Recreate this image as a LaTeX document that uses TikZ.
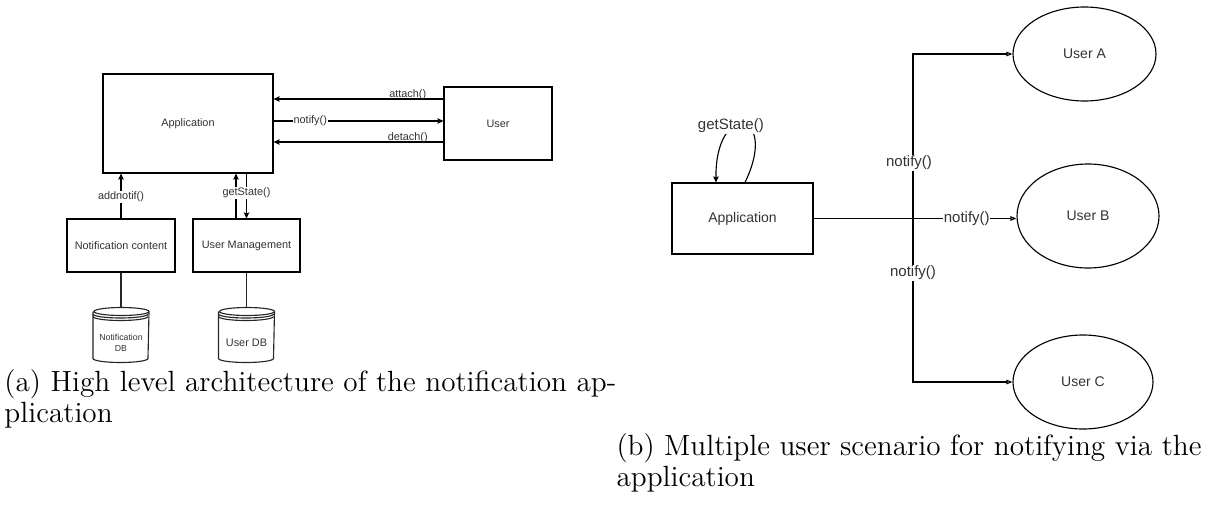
\documentclass[tikz,border=0pt]{standalone}
\usepackage{fontspec}
\newfontfamily\diagfont{Liberation Sans}
\usetikzlibrary{arrows.meta,shapes.geometric,calc}
\newlength\pxl
\setlength\pxl{0.4pt}

% outline of a datastore drum drawn inside the box of node #1
\newcommand\drumoutline[1]{%
  \draw[thinline] ([yshift=-4\pxl]#1.north west) -- ([yshift=4\pxl]#1.south west)
    arc[start angle=180, end angle=360, x radius=27.5\pxl, y radius=4\pxl]
    -- ([yshift=-4\pxl]#1.north east)
    arc[start angle=0, end angle=360, x radius=27.5\pxl, y radius=4\pxl];
  \draw[thinline] ([yshift=-6.5\pxl]#1.north west)
    arc[start angle=180, end angle=360, x radius=27.5\pxl, y radius=4\pxl];
  \draw[thinline] ([yshift=-9\pxl]#1.north west)
    arc[start angle=180, end angle=360, x radius=27.5\pxl, y radius=4\pxl];
}

\begin{document}
\begin{tikzpicture}[x=0.4pt, y=-0.4pt,
  every node/.style={text=black!80},
  thinline/.style={line width=0.45pt, draw=black!85},
  lfont/.style={font=\diagfont\fontsize{4.35pt}{5.2pt}\selectfont},
  rfont/.style={font=\diagfont\fontsize{5.6pt}{6.7pt}\selectfont},
  lbox/.style={draw, line width=0.45pt, inner sep=0, lfont},
  rbox/.style={draw, line width=0.45pt, inner sep=0, rfont},
  ruser/.style={ellipse, draw, line width=0.45pt, inner sep=0, rfont},
  drum/.style={minimum width=55\pxl, minimum height=54\pxl, inner sep=0},
  drumtext/.style={font=\diagfont\fontsize{3.5pt}{4.6pt}\selectfont, align=center},
  larr/.style={line width=0.45pt, -{Stealth[length=2.4pt, width=2.2pt, inset=0.4pt]}},
  rarr/.style={line width=0.45pt, -{Triangle[open, length=2.4pt, width=1.8pt]}},
  llabel/.style={lfont, fill=white, inner sep=0.25pt},
  lover/.style={lfont, inner sep=0, anchor=base, yshift=0.6pt},
  rlabel/.style={font=\diagfont\fontsize{6pt}{7.2pt}\selectfont, fill=white, inner sep=0.25pt},
  caption/.style={font=\fontsize{11.7pt}{12.6pt}\selectfont, align=left, inner sep=0, text=black},
]
\useasboundingbox (0,0) rectangle (1226,513);

% ---------- (a) architecture ----------
\node[lbox, minimum width=170\pxl, minimum height=99\pxl] (app) at (188,123.5) {Application};
\node[lbox, minimum width=108\pxl, minimum height=73\pxl] (user) at (498,123.5) {User};
\node[lbox, minimum width=108\pxl, minimum height=53\pxl] (content) at (121,245.5) {Notification content};
\node[lbox, minimum width=107\pxl, minimum height=53\pxl] (mgmt) at (246.5,245.5) {User Management};
\node[drum, label={[drumtext, yshift=-3.2pt]center:Notification\\DB}] (ndb) at (121,335) {};
\node[drum, label={[lfont, yshift=-3.2pt]center:User DB}] (udb) at (246.5,335) {};
\drumoutline{ndb}
\drumoutline{udb}

\draw[larr] ([yshift=9.8pt]user.west) -- ([yshift=9.8pt]user.west -| app.east)
  node[lover, pos=0.21] {attach()};
\draw[larr] ([yshift=1pt]app.east) -- ([yshift=1pt]app.east -| user.west)
  node[llabel, pos=0.216] {notify()};
\draw[larr] ([yshift=-7.4pt]user.west) -- ([yshift=-7.4pt]user.west -| app.east)
  node[lover, pos=0.21] {detach()};

\draw[larr] (content.north) -- (content.north |- app.south)
  node[llabel, pos=0.48] {addnotif()};
\draw[larr] ([xshift=-4.2pt]mgmt.north) -- ([xshift=-4.2pt]mgmt.north |- app.south);
\draw[larr] (mgmt.north |- app.south) -- (mgmt.north)
  node[llabel, pos=0.43] {getState()};

\draw[thinline] (content.south) -- (ndb.north);
\draw[thinline] (mgmt.south) -- (udb.north);

% ---------- (b) several users ----------
\node[rbox, minimum width=141\pxl, minimum height=71\pxl] (app2) at (742.5,218.5) {Application};
\node[ruser, minimum width=143\pxl, minimum height=94\pxl] (ua) at (1084.5,54) {User A};
\node[ruser, minimum width=142\pxl, minimum height=104\pxl] (ub) at (1088,216) {User B};
\node[ruser, minimum width=140\pxl, minimum height=94\pxl] (uc) at (1083,382) {User C};
\coordinate (hub) at (913,218.5);

\draw[rarr] (app2.east) -- (app2.east -| ub.west)
  node[rlabel, pos=0.755] {notify()};
\draw[rarr] (hub) |- (ua.west)
  node[rlabel, pos=0.169, xshift=-1.6pt] {notify()};
\draw[rarr] (hub) |- (uc.west)
  node[rlabel, pos=0.167] {notify()};

\draw[larr] ([xshift=1pt]app2.north) .. controls (780,110) and (715,100) .. ([xshift=-10.6pt]app2.north)
  node[rlabel, pos=0.6, xshift=-2pt] {getState()};

% ---------- captions ----------
\node[caption, anchor=north west] (capa) at (4,369)
  {(a) High level architecture of the notification ap-\\plication};
\node[caption, anchor=north west] (capb) at (616,433)
  {(b) Multiple user scenario for notifying via the\\application};
\end{tikzpicture}
\end{document}
